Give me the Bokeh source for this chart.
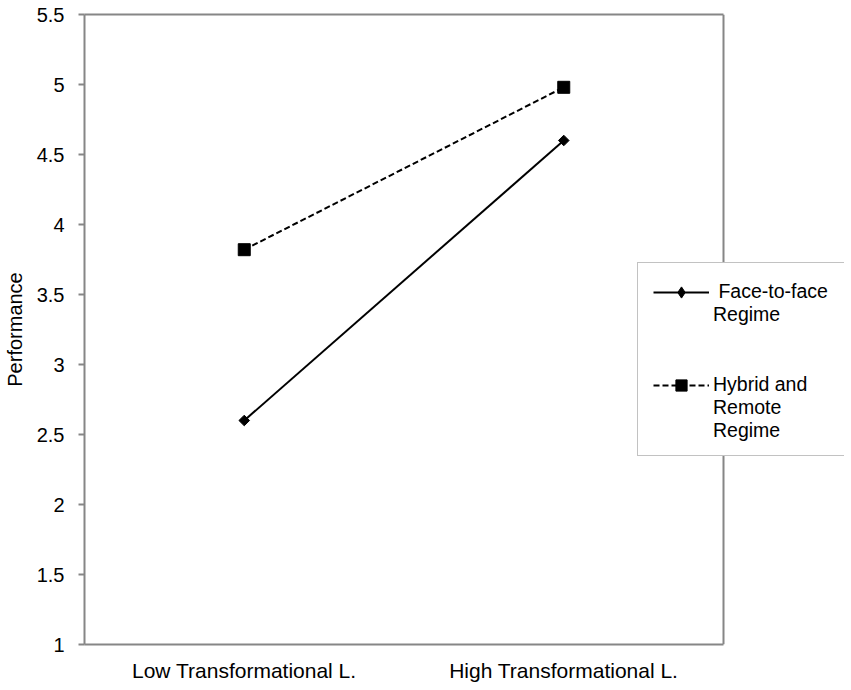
import math
from bokeh.plotting import figure
from bokeh.models import Range1d, FixedTicker, Legend, LegendItem, LinearAxis, Span, ColumnDataSource
from bokeh.embed import file_html
from bokeh.resources import INLINE

categories = ["Low Transformational L.", "High Transformational L."]
face_to_face = [2.6, 4.6]
hybrid_remote = [3.82, 4.98]
y_ticks = [1, 1.5, 2, 2.5, 3, 3.5, 4, 4.5, 5, 5.5]
y_tick_labels = ["1", "1.5", "2", "2.5", "3", "3.5", "4", "4.5", "5", "5.5"]
face_label_lines = [" Face-to-face", "Regime"]
hybrid_label_lines = ["Hybrid and", "Remote", "Regime"]

FONT = "Liberation Sans"
GRAY = "#868686"

n_cat = len(categories)
x_pos = [i + 0.5 for i in range(n_cat)]

FRAME_W = 760          # frame reaches under the legend box
CAT_W = 639            # width of the visible plot box
p = figure(x_range=Range1d(0, n_cat * FRAME_W / CAT_W), y_range=(y_ticks[0], y_ticks[-1]),
           frame_width=FRAME_W, frame_height=630,
           min_border_left=83, min_border_right=0, min_border_top=14, min_border_bottom=38,
           output_backend="svg", toolbar_location=None)

p.xgrid.visible = False
p.ygrid.visible = False
p.outline_line_color = None
p.background_fill_color = "white"
p.border_fill_color = "white"

# y axis
p.yaxis.ticker = FixedTicker(ticks=y_ticks)
p.yaxis.major_label_overrides = {t: l for t, l in zip(y_ticks, y_tick_labels)}
p.yaxis.minor_tick_line_color = None
p.yaxis.major_tick_in = 0
p.yaxis.major_tick_out = 6
p.yaxis.major_label_standoff = 14
p.yaxis.major_label_text_font_size = "20px"
p.yaxis.axis_label = "Performance"
p.yaxis.axis_label_text_font_style = "normal"
p.yaxis.axis_label_text_font_size = "20px"
p.yaxis.axis_label_standoff = 8

# x axis (bounded to the category span)
p.xaxis.ticker = FixedTicker(ticks=x_pos)
p.xaxis.major_label_overrides = {x: c for x, c in zip(x_pos, categories)}
p.xaxis.bounds = (0, n_cat)
p.xaxis.minor_tick_line_color = None
p.xaxis.major_tick_in = 0
p.xaxis.major_tick_out = 0
p.xaxis.major_label_standoff = 14
p.xaxis.major_label_text_font_size = "21px"

for ax in (p.xaxis, p.yaxis):
    ax.axis_line_color = GRAY
    ax.axis_line_width = 2
    ax.major_tick_line_color = GRAY
    ax.major_tick_line_width = 2
    ax.major_label_text_font = FONT
    ax.major_label_text_color = "black"
    ax.axis_label_text_font = FONT
    ax.axis_label_text_color = "black"

# top border of the plot box
top = LinearAxis(ticker=FixedTicker(ticks=[]), bounds=(0, n_cat),
                 axis_line_color=GRAY, axis_line_width=2,
                 major_tick_line_color=None, minor_tick_line_color=None,
                 major_label_standoff=0, major_tick_out=0, major_tick_in=0,
                 minor_tick_out=0, minor_tick_in=0)
p.add_layout(top, "above")

# right border of the plot box
p.add_layout(Span(location=n_cat, dimension="height", line_color=GRAY, line_width=2))

# data
src_f = ColumnDataSource(dict(x=x_pos, y=face_to_face))
src_h = ColumnDataSource(dict(x=x_pos, y=hybrid_remote))
l1 = p.line("x", "y", source=src_f, line_color="black", line_width=2)
# small diamond hidden under the rotated square; used as the legend sample
leg_diamond = p.scatter("x", "y", source=src_f, marker="diamond", size=6, color="black")
s1 = p.scatter("x", "y", source=src_f, marker="square", angle=math.pi / 4, size=7.5, color="black")
l2 = p.line("x", "y", source=src_h, line_color="black", line_width=2, line_dash="6 3")
s2 = p.scatter("x", "y", source=src_h, marker="square", size=12, color="black")

invisible = p.scatter("x", "y", source=src_f, marker="square", fill_alpha=0, line_alpha=0)

# legend box
box = Legend(items=[LegendItem(label=" ", renderers=[invisible])],
             location=(553, 188), padding=0, margin=0, spacing=0,
             glyph_width=1, glyph_height=192, label_standoff=0,
             label_width=205, label_height=192, label_text_font_size="1px",
             border_line_color=GRAY, border_line_width=1,
             background_fill_color="white", background_fill_alpha=1)
p.add_layout(box, "center")

common = dict(padding=0, margin=0, spacing=0, glyph_width=56, glyph_height=28,
              label_standoff=4, label_text_font=FONT, label_text_font_size="19.5px",
              label_text_color="black", label_text_line_height=1.0,
              border_line_color=None, background_fill_alpha=0)

face_label = "\n".join([" "] * (len(face_label_lines) - 1) + face_label_lines)
hybrid_label = "\n".join([" "] * (len(hybrid_label_lines) - 1) + hybrid_label_lines)

leg_a = Legend(items=[LegendItem(label=face_label, renderers=[l1, leg_diamond], index=0)],
               location=(569, 318), **common)
leg_b = Legend(items=[LegendItem(label=hybrid_label, renderers=[l2, s2], index=0)],
               location=(569, 202), **common)
p.add_layout(leg_a, "center")
p.add_layout(leg_b, "center")

open("out.html", "w").write(file_html(p, INLINE))
